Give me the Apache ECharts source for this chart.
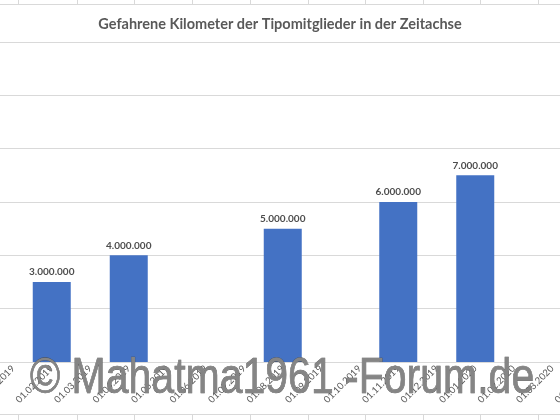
<!DOCTYPE html>
<html>
<head>
<meta charset="utf-8">
<script src="https://cdn.jsdelivr.net/npm/echarts@6/dist/echarts.min.js"></script>
<style>
  html, body { margin: 0; padding: 0; background: #fff; }
  #chart { width: 560px; height: 420px; }
</style>
</head>
<body>
<div id="chart"></div>
<script>
// Monatskategorien (Excel-Datumsachse)
const months = [
    '01.01.2019', '01.02.2019', '01.03.2019', '01.04.2019',
    '01.05.2019', '01.06.2019', '01.07.2019', '01.08.2019',
    '01.09.2019', '01.10.2019', '01.11.2019', '01.12.2019',
    '01.01.2020', '01.02.2020', '01.03.2020', '01.04.2020'
];
// Gefahrene Kilometer, nur an den Stichtagen vorhanden
const kilometers = [
    null, 3000000, null, 4000000,
    null, null, null, 5000000,
    null, null, 6000000, null,
    7000000, null, null, null
];
const yMax = 12000000;
const yStep = 2000000;

// Zellraster der Tabelle oben/unten (nur Deko)
const cellColumns = [18, 77, 134, 192, 250, 308, 365, 423, 480, 538];

function fmt(v) {
    return String(v).replace(/\B(?=(\d{3})+(?!\d))/g, '.');
}

const sheetLines = [];
sheetLines.push({ type: 'line', shape: { x1: 0, y1: 4.5, x2: 560, y2: 4.5 }, style: { stroke: '#d9d9d9', lineWidth: 1 } });
sheetLines.push({ type: 'line', shape: { x1: 0, y1: 414.5, x2: 560, y2: 414.5 }, style: { stroke: '#d9d9d9', lineWidth: 1 } });
for (const cx of cellColumns) {
    sheetLines.push({ type: 'line', shape: { x1: cx + 0.5, y1: 0, x2: cx + 0.5, y2: 4.5 }, style: { stroke: '#d9d9d9', lineWidth: 1 } });
    sheetLines.push({ type: 'line', shape: { x1: cx + 0.5, y1: 414.5, x2: cx + 0.5, y2: 420 }, style: { stroke: '#d9d9d9', lineWidth: 1 } });
}

const option = {
    backgroundColor: '#fff',
    animation: false,
    title: {
        text: 'Gefahrene Kilometer der Tipomitglieder in der Zeitachse',
        left: 'center',
        top: 12,
        textStyle: {
            fontFamily: 'Lato',
            fontSize: 14.5,
            fontWeight: 'bold',
            color: '#595959'
        }
    },
    grid: {
        left: -6,
        right: -50,
        top: 42,
        bottom: 58,
        containLabel: false,
        outerBoundsMode: 'none'
    },
    xAxis: {
        type: 'category',
        data: months,
        axisLine: { lineStyle: { color: '#d9d9d9' } },
        axisTick: { show: false },
        axisLabel: {
            interval: 0,
            rotate: 45,
            margin: 5,
            fontFamily: 'Lato',
            fontSize: 9.5,
            color: '#595959'
        }
    },
    yAxis: {
        type: 'value',
        min: 0,
        max: yMax,
        interval: yStep,
        axisLabel: { show: false },
        axisLine: { show: false },
        axisTick: { show: false },
        splitLine: { lineStyle: { color: '#d9d9d9' } }
    },
    series: [
        {
            type: 'bar',
            data: kilometers,
            barWidth: 38,
            itemStyle: { color: '#4472c4' },
            label: {
                show: true,
                position: 'top',
                distance: 5,
                fontFamily: 'Lato',
                fontSize: 10,
                fontWeight: 'bold',
                color: '#4d4d4d',
                formatter: p => fmt(p.value)
            }
        }
    ],
    graphic: sheetLines.concat([
        {
            type: 'text',
            x: 30,
            y: 404,
            scaleX: 0.82,
            z: 100,
            style: {
                text: '© Mahatma1961 -Forum.de',
                font: '50px "Liberation Sans"',
                verticalAlign: 'bottom',
                fill: '#858585',
                stroke: '#4a4a4a',
                lineWidth: 0.6,
                shadowColor: 'rgba(0,0,0,0.5)',
                shadowOffsetX: 2,
                shadowOffsetY: 2,
                shadowBlur: 2
            }
        }
    ])
};

const chart = echarts.init(document.getElementById('chart'));
chart.setOption(option);
</script>
</body>
</html>
